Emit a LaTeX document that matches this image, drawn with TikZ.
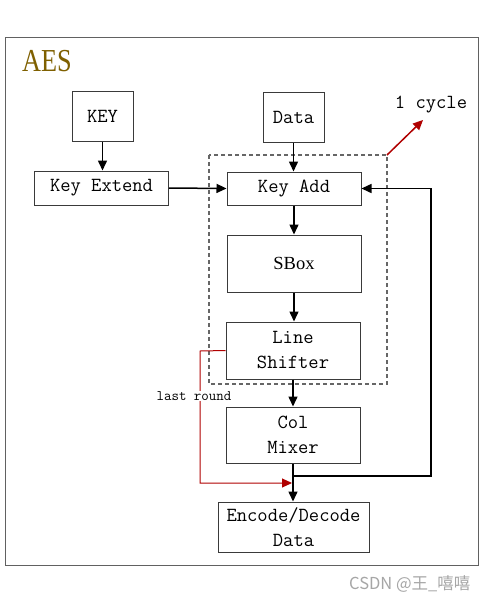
\documentclass[tikz,border=0pt]{standalone}
\usepackage{fontspec}
\usetikzlibrary{arrows.meta}
\newfontfamily\aesfont[FakeStretch=0.82]{Liberation Serif}
\newfontfamily\serf{Liberation Serif}
\newfontfamily\cjkf{Noto Sans CJK SC}
\definecolor{aesc}{HTML}{7F6000}
\definecolor{redc}{HTML}{B00000}
\definecolor{boxc}{HTML}{3A3A3A}
\tikzset{
  blk/.style={draw=boxc, line width=1pt, fill=white, inner sep=0pt, align=center,
    font=\ttfamily\fontsize{20}{25}\selectfont},
  conn/.style={line width=1.5pt, -{Triangle[length=10pt,width=9pt]}},
  redconn/.style={draw=redc, line width=1pt, -{Triangle[length=10pt,width=9pt]}},
}
\begin{document}
\begin{tikzpicture}[x=1pt,y=-1pt]
\useasboundingbox (0,0) rectangle (480,600);
\fill[white] (0,0) rectangle (480,600);
% outer frame
\draw[draw=boxc!80, line width=1pt] (5,37) rectangle (478,565);
\node[anchor=west, text=aesc, font=\aesfont\fontsize{32}{32}\selectfont, inner sep=0pt] (aes) at (22,61) {AES};
% dashed cycle box
\draw[draw=gray!80!black, line width=1.2pt, dash pattern=on 4pt off 3pt] (209,155) rectangle (387,384);
\coordinate (cyc) at (387,155);
% boxes
\node[blk, minimum width=61pt, minimum height=50pt] (key) at (102.5,116) {KEY};
\node[blk, minimum width=134pt, minimum height=34pt] (kext) at (101.5,188) {Key Extend};
\node[blk, minimum width=61pt, minimum height=50pt] (data) at (293.5,117) {Data};
\node[blk, minimum width=134pt, minimum height=33pt] (kadd) at (294,188.5) {Key Add};
\node[blk, minimum width=134pt, minimum height=57pt, font=\serf\fontsize{18.5}{22}\selectfont] (sbox) at (294,263.5) {SBox};
\node[blk, minimum width=134pt, minimum height=57pt] (lsh) at (293,350.5) {Line\\Shifter};
\node[blk, minimum width=134pt, minimum height=56pt] (cmx) at (293,435) {Col\\Mixer};
\node[blk, minimum width=151pt, minimum height=50pt] (enc) at (293.5,527) {Encode/Decode\\Data};
% coordinates
\coordinate (jn) at (293,476);
\coordinate (fb) at (431,476);
\coordinate (rc) at (200,351);
\coordinate (rend) at (292,483);
\coordinate (cyctip) at (423,120);
% connectors
\draw[conn] (key.south) -- (key.south |- kext.north);
\draw[conn] (data.south) -- (data.south |- kadd.north);
\draw[conn] (kext.east) -- (kadd.west);
\draw[conn] (kadd.south) -- (kadd.south |- sbox.north);
\draw[conn] (sbox.south) -- (sbox.south |- lsh.north);
\draw[conn] (lsh.south) -- (cmx.north);
\draw[conn] (cmx.south) -- (enc.north -| cmx.south);
\draw[conn] (jn) -- (fb) |- (kadd.east);
% red
\draw[redconn] (lsh.west) -- (rc) |- (rend);
\node[fill=white, inner sep=1pt, font=\ttfamily\fontsize{14.5}{14.5}\selectfont] (lr) at (194,396) {last round};
\draw[draw=redc, line width=1.5pt, -{Triangle[length=10pt,width=9pt]}] (cyc) -- (cyctip);
\node[font=\ttfamily\fontsize{20}{20}\selectfont, inner sep=0pt] (cyl) at (431,105) {1 cycle};
% watermark
\node[text=gray!70, font=\cjkf\fontsize{16.5}{16.5}\selectfont, anchor=west, inner sep=0pt] (wm) at (349,584) {CSDN @王\_嘻嘻};
\end{tikzpicture}
\end{document}
